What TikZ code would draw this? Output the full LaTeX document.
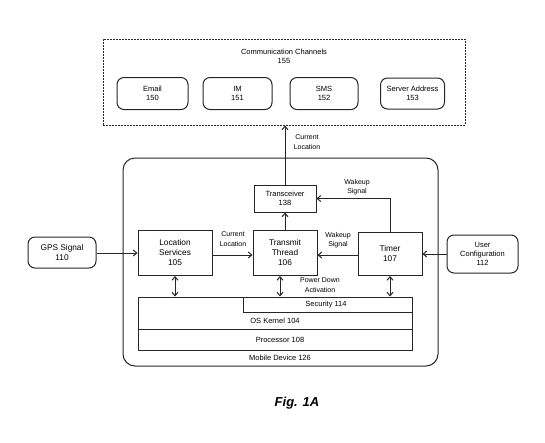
\documentclass[tikz,border=0pt]{standalone}
\usepackage{fontspec}
\setmainfont{Liberation Sans}
\usetikzlibrary{arrows.meta}
\begin{document}
\begin{tikzpicture}[x=1pt,y=-1pt,
  every node/.style={font=\fontsize{7.5}{9}\selectfont, inner sep=1pt},
  ln/.style={line width=1pt, draw=black!85},
  rbox/.style={ln, rounded corners=7pt, align=center, inner sep=0pt},
  sbox/.style={ln, align=center, inner sep=0pt},
  bigtxt/.style={font=\fontsize{8.3}{10}\selectfont},
  lbl/.style={align=center, font=\fontsize{7}{9.5}\selectfont},
  arr/.style={ln, -{Straight Barb[length=3.5pt,width=6pt]}},
  darr/.style={ln, {Straight Barb[length=3.5pt,width=6pt]}-{Straight Barb[length=3.5pt,width=6pt]}}
]
\useasboundingbox (0,0) rectangle (545,442);
% Communication channels
\node[ln, dashed, dash pattern=on 2pt off 1pt, minimum width=362pt, minimum height=86pt, inner sep=0pt] (comm) at (284,82) {};
\node[align=center] (commtitle) at (284,56) {Communication Channels\\155};
\node[rbox, minimum width=71pt, minimum height=32pt] (email) at (152.5,93.5) {Email\\150};
\node[rbox, minimum width=69pt, minimum height=32pt] (im) at (237.5,93.5) {IM\\151};
\node[rbox, minimum width=68pt, minimum height=32pt] (sms) at (324,93.5) {SMS\\152};
\node[rbox, minimum width=64pt, minimum height=31pt] (server) at (412.5,93.5) {Server Address\\153};
% Mobile device
\node[ln, rounded corners=12pt, minimum width=315pt, minimum height=208pt, inner sep=0pt] (mobile) at (280.5,262) {};
\node[sbox, minimum width=62pt, minimum height=27pt] (trans) at (285,198.5) {Transceiver\\138};
\node[sbox, bigtxt, minimum width=74pt, minimum height=45pt] (loc) at (175,253) {Location\\Services\\105};
\node[sbox, bigtxt, minimum width=64pt, minimum height=45pt] (tt) at (285,253) {Transmit\\Thread\\106};
\node[sbox, bigtxt, minimum width=64pt, minimum height=43pt] (timer) at (390,254) {Timer\\107};
% layers
\node[ln, minimum width=274pt, minimum height=53pt, inner sep=0pt] (layers) at (275,323.5) {};
\node[ln, minimum width=169pt, minimum height=15pt, inner sep=0pt] (sec) at (327.5,304.5) {};
\node (sectxt) at (326,305) {Security 114};
\coordinate (pl) at (138,329);
\coordinate (pr) at (412,329);
\draw[ln] (pl) -- (pr);
\node (ostxt) at (275,321) {OS Kernel 104};
\node (proctxt) at (280,340) {Processor 108};
\node (mobtxt) at (280,357.5) {Mobile Device 126};
% external
\node[rbox, bigtxt, minimum width=68pt, minimum height=31pt] (gps) at (62,252.5) {GPS Signal\\110};
\node[rbox, minimum width=71pt, minimum height=38pt] (user) at (482.5,254) {User\\Configuration\\112};
% arrows
\draw[arr] (gps.east |- 0,253) -- (loc.west |- 0,253);
\draw[arr] (user.west |- 0,254) -- (timer.east |- 0,254);
\draw[arr] (loc.east |- 0,255) -- (tt.west |- 0,255);
\node[lbl] (cl1) at (233,239) {Current\\Location};
\draw[arr] (timer.west |- 0,255) -- (tt.east |- 0,255);
\node[lbl] (ws1) at (338,240) {Wakeup\\Signal};
\draw[arr] (tt.north) -- (trans.south);
\draw[arr] (timer.north) |- (trans.east);
\node[lbl] (ws2) at (357,187) {Wakeup\\Signal};
\draw[arr] (trans.north) -- (comm.south -| trans.north);
\node[lbl] (cl2) at (307,142) {Current\\Location};
\draw[darr] (loc.south) -- (loc.south |- layers.north);
\draw[darr] (tt.south -| 280,0) -- (280,0 |- layers.north);
\draw[darr] (timer.south) -- (timer.south |- layers.north);
\node[lbl] (pd) at (320,285) {Power Down\\Activation};
\node[font=\fontsize{13}{15}\selectfont\bfseries\itshape] (fig) at (297,403) {Fig. 1A};
\end{tikzpicture}
\end{document}
